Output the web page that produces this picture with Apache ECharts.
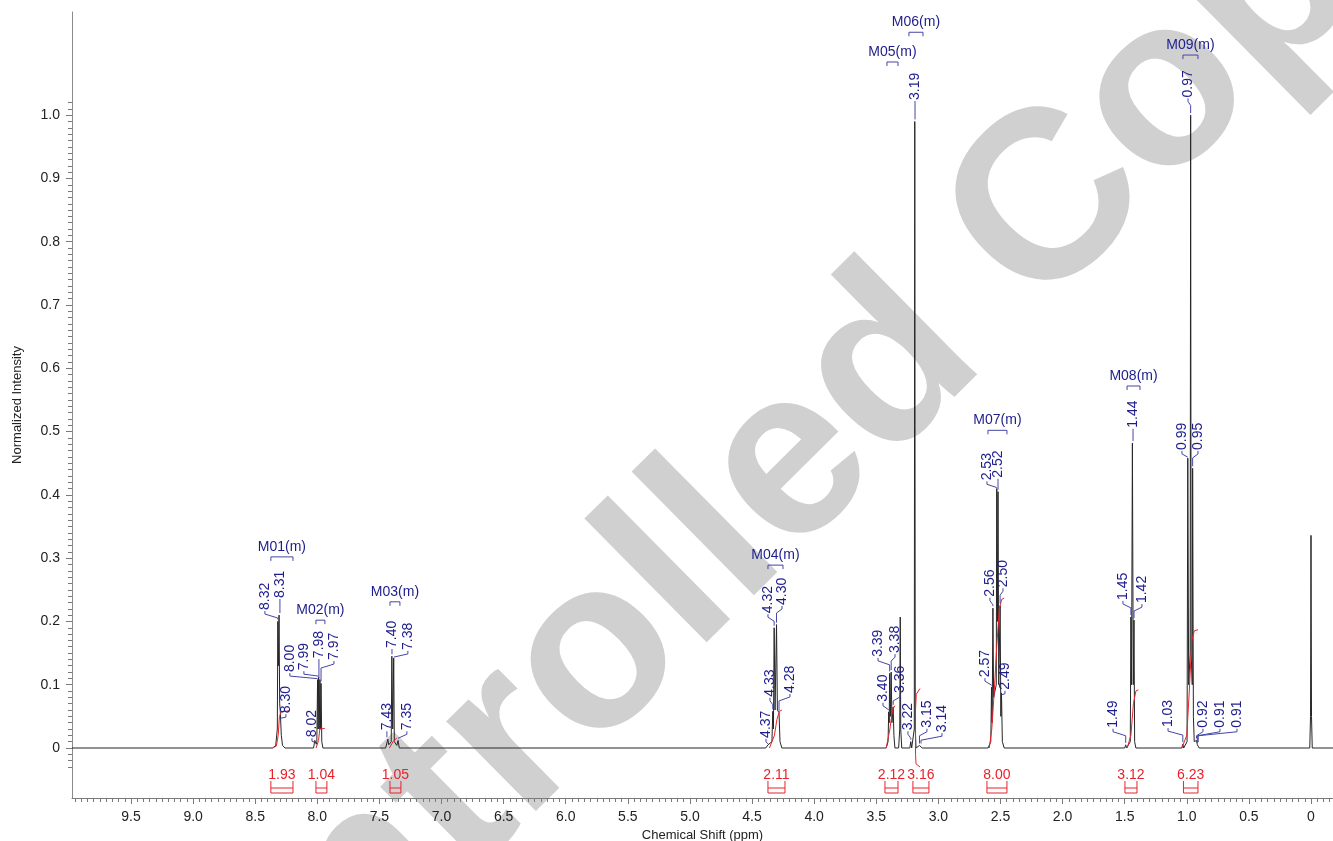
<!DOCTYPE html>
<html>
<head>
<meta charset="utf-8">
<title>1H NMR</title>
<script src="https://cdn.jsdelivr.net/npm/echarts@6.0.0/dist/echarts.min.js"></script>
<style>
html, body { margin: 0; padding: 0; background: #fff; }
#chart { width: 1333px; height: 841px; }
</style>
</head>
<body>
<div id="chart"></div>
<script>
// spectrum trace [ppm, normalized intensity]
const spectrum = [
  [9.975, 0], [8.36, 0], [8.335, 0.004], [8.322, 0.03], [8.318, 0.20], [8.313, 0.13], [8.308, 0.21],
  [8.303, 0.07], [8.298, 0.057], [8.29, 0.02], [8.28, 0.004], [8.26, 0],
  [8.03, 0], [8.02, 0.012], [8.008, 0.006], [8.004, 0.01], [7.998, 0.108], [7.994, 0.03], [7.989, 0.112],
  [7.985, 0.03], [7.979, 0.108], [7.975, 0.03], [7.970, 0.102], [7.964, 0.01], [7.955, 0],
  [7.45, 0], [7.432, 0.014], [7.425, 0.005], [7.405, 0.01], [7.400, 0.145], [7.393, 0.03], [7.385, 0.142],
  [7.380, 0.01], [7.36, 0.004], [7.35, 0.012], [7.34, 0],
  [4.39, 0], [4.372, 0.005], [4.36, 0.002], [4.34, 0.01], [4.333, 0.058], [4.328, 0.03], [4.322, 0.19],
  [4.315, 0.06], [4.303, 0.195], [4.296, 0.06], [4.283, 0.056], [4.275, 0.01], [4.26, 0],
  [3.42, 0], [3.405, 0.01], [3.40, 0.057], [3.396, 0.04], [3.392, 0.118], [3.386, 0.05], [3.380, 0.12],
  [3.374, 0.04], [3.364, 0.065], [3.358, 0.02], [3.35, 0],
  [3.32, 0], [3.311, 0.03], [3.307, 0.207], [3.303, 0.03], [3.295, 0],
  [3.23, 0], [3.222, 0.01], [3.215, 0], [3.20, 0], [3.194, 0.03], [3.190, 0.99], [3.186, 0.03], [3.18, 0],
  [3.152, 0.004], [3.14, 0.004], [3.13, 0],
  [2.60, 0], [2.578, 0.01], [2.572, 0.096], [2.567, 0.04], [2.561, 0.221], [2.555, 0.08], [2.534, 0.1],
  [2.530, 0.41], [2.524, 0.2], [2.520, 0.405], [2.514, 0.1], [2.503, 0.225], [2.497, 0.05], [2.492, 0.087],
  [2.485, 0.01], [2.47, 0],
  [1.50, 0], [1.492, 0.005], [1.485, 0], [1.455, 0.01], [1.450, 0.207], [1.445, 0.1], [1.438, 0.482],
  [1.431, 0.1], [1.425, 0.202], [1.420, 0.01], [1.41, 0],
  [1.04, 0], [1.032, 0.006], [1.025, 0], [0.998, 0.01], [0.992, 0.458], [0.985, 0.1], [0.973, 0.15],
  [0.969, 1.0], [0.965, 0.15], [0.956, 0.1], [0.953, 0.442], [0.947, 0.05], [0.94, 0.01], [0.922, 0.012],
  [0.915, 0.005], [0.908, 0.006], [0.90, 0],
  [0.01, 0], [0.004, 0.05], [0.0, 0.336], [-0.004, 0.05], [-0.01, 0], [-0.177, 0]
];

// picked peaks: [label, ppm, peak height]
const peakPicks = [
  ['8.32', 8.318, 0.20], ['8.31', 8.308, 0.21], ['8.30', 8.298, 0.057], ['8.00', 7.998, 0.108],
  ['7.99', 7.989, 0.112], ['7.98', 7.979, 0.108], ['7.97', 7.970, 0.102], ['8.02', 8.02, 0.012],
  ['7.40', 7.400, 0.145], ['7.38', 7.385, 0.142], ['7.43', 7.432, 0.014], ['7.35', 7.35, 0.012],
  ['4.32', 4.322, 0.19], ['4.30', 4.303, 0.195], ['4.33', 4.333, 0.058], ['4.28', 4.283, 0.056],
  ['4.37', 4.372, 0.005],
  ['3.39', 3.392, 0.118], ['3.38', 3.380, 0.12], ['3.40', 3.400, 0.057], ['3.36', 3.364, 0.065],
  ['3.22', 3.222, 0.01], ['3.15', 3.152, 0.004], ['3.14', 3.14, 0.004], ['3.19', 3.190, 0.99],
  ['2.53', 2.530, 0.41], ['2.52', 2.520, 0.405], ['2.56', 2.561, 0.221], ['2.50', 2.503, 0.225],
  ['2.57', 2.572, 0.096], ['2.49', 2.492, 0.087],
  ['1.44', 1.438, 0.482], ['1.45', 1.450, 0.207], ['1.42', 1.425, 0.202], ['1.49', 1.492, 0.005],
  ['0.97', 0.969, 1.0], ['0.99', 0.992, 0.458], ['0.95', 0.953, 0.442], ['1.03', 1.032, 0.006],
  ['0.92', 0.922, 0.012], ['0.91', 0.915, 0.005], ['0.91', 0.908, 0.006]
];

// where each peak label sits: [ppm, intensity at the foot of the text]
const labelSlots = [
  [8.422, 0.218], [8.301, 0.237], [8.253, 0.055], [8.221, 0.120],
  [8.108, 0.123], [7.987, 0.142], [7.866, 0.139], [8.043, 0.017],
  [7.399, 0.158], [7.271, 0.155], [7.440, 0.028], [7.279, 0.028],
  [4.372, 0.213], [4.259, 0.226], [4.356, 0.081], [4.195, 0.087],
  [4.388, 0.016],
  [3.486, 0.144], [3.349, 0.150], [3.446, 0.073], [3.309, 0.087],
  [3.245, 0.028], [3.092, 0.032], [2.971, 0.025], [3.188, 1.024],
  [2.609, 0.423], [2.520, 0.427], [2.585, 0.239], [2.480, 0.254],
  [2.625, 0.112], [2.464, 0.092],
  [1.433, 0.506], [1.514, 0.234], [1.361, 0.229], [1.594, 0.032],
  [0.990, 1.028], [1.039, 0.471], [0.910, 0.471], [1.151, 0.033],
  [0.870, 0.032], [0.733, 0.032], [0.596, 0.032]
];

// multiplets: [name, from ppm, to ppm]
const multiplets = [
  ['M01(m)', 8.374, 8.196], ['M02(m)', 8.011, 7.939], ['M03(m)', 7.415, 7.335],
  ['M04(m)', 4.372, 4.251], ['M05(m)', 3.414, 3.325], ['M06(m)', 3.237, 3.124],
  ['M07(m)', 2.601, 2.448], ['M08(m)', 1.481, 1.377], ['M09(m)', 1.031, 0.910]
];
// height of each multiplet bracket
const multipletLevels = [0.302, 0.202, 0.231, 0.289, 1.084, 1.131, 0.502, 0.572, 1.095];

// integrals: [value, from ppm, to ppm]
const integrals = [
  ['1.93', 8.374, 8.196], ['1.04', 8.011, 7.923], ['1.05', 7.415, 7.327],
  ['2.11', 4.372, 4.235], ['2.12', 3.430, 3.325], ['3.16', 3.205, 3.076],
  ['8.00', 2.609, 2.448], ['3.12', 1.498, 1.401], ['6.23', 1.027, 0.910]
];

// integral curves drawn over the peaks
const integralCurves = [
  [[8.36, 0], [8.33, 0.003], [8.315, 0.02], [8.305, 0.05], [8.29, 0.057], [8.22, 0.059]],
  [[8.01, 0], [7.99, 0.012], [7.98, 0.03], [7.94, 0.031]],
  [[7.42, 0], [7.39, 0.01], [7.36, 0.016]],
  [[4.36, 0], [4.32, 0.02], [4.30, 0.045], [4.28, 0.058], [4.26, 0.06]],
  [[3.42, 0], [3.39, 0.03], [3.37, 0.06], [3.35, 0.067]],
  [[3.148, 0.094], [3.178, 0.085], [3.184, 0.06], [3.184, -0.01], [3.18, -0.025], [3.148, -0.03]],
  [[2.59, 0], [2.57, 0.03], [2.55, 0.09], [2.53, 0.16], [2.51, 0.22], [2.49, 0.235], [2.47, 0.237]],
  [[1.48, 0], [1.45, 0.02], [1.43, 0.07], [1.41, 0.09], [1.39, 0.092]],
  [[1.04, 0], [1.00, 0.02], [0.98, 0.09], [0.96, 0.17], [0.94, 0.185], [0.91, 0.187]]
];

const xTickLabels = [9.5, 9.0, 8.5, 8.0, 7.5, 7.0, 6.5, 6.0, 5.5, 5.0, 4.5, 4.0, 3.5, 3.0, 2.5, 2.0, 1.5, 1.0, 0.5, 0];
const yTickLabels = [0, 0.1, 0.2, 0.3, 0.4, 0.5, 0.6, 0.7, 0.8, 0.9, 1.0];

const xMinor = [];
for (let k = -3; k <= 199; k++) xMinor.push(Math.round(k * 5) / 100);
const yMinor = [];
for (let k = -3; k <= 102; k++) yMinor.push(k / 100);

const FONT = '"Liberation Sans", Arial, sans-serif';
const BLUE = '#1c1c8c';
const RED = '#e8222b';
const X_MIN = -0.177, X_MAX = 9.975, Y_MIN = -0.079, Y_MAX = 1.163;

const chart = echarts.init(document.getElementById('chart'));

function fmt(v) { return v === 0 ? '0' : v.toFixed(1); }

function renderPeakLabel(params, api) {
  const i = params.dataIndex;
  const p = api.coord([api.value(0), api.value(1)]);
  const l = api.coord([api.value(2), api.value(3)]);
  const pts = [[l[0], l[1] + 1], [l[0], l[1] + 4]];
  const bend = l[1] + 8;
  if (Math.abs(p[0] - l[0]) < 1.5) {
    pts.push([l[0], Math.max(p[1] - 2, l[1] + 5)]);
  } else if (p[1] - 2 > bend) {
    pts.push([p[0], bend]);
    pts.push([p[0], p[1] - 2]);
  } else {
    pts.push([p[0], Math.max(p[1] - 1, l[1] + 5)]);
  }
  return {
    type: 'group',
    children: [
      { type: 'polyline', shape: { points: pts }, style: { stroke: '#4545a8', lineWidth: 1, fill: null } },
      {
        type: 'text', x: l[0], y: l[1], rotation: Math.PI / 2,
        style: { text: peakPicks[i][0], fill: BLUE, font: '14px ' + FONT, align: 'left', verticalAlign: 'middle' }
      }
    ]
  };
}

function renderMultiplet(params, api) {
  const i = params.dataIndex;
  const a = api.coord([api.value(0), api.value(2)]);
  const b = api.coord([api.value(1), api.value(2)]);
  return {
    type: 'group',
    children: [
      { type: 'polyline', shape: { points: [[a[0], a[1] + 4], [a[0], a[1]], [b[0], b[1]], [b[0], b[1] + 4]] },
        style: { stroke: '#4545a8', lineWidth: 1, fill: null } },
      { type: 'text', x: (a[0] + b[0]) / 2, y: a[1] - 10,
        style: { text: multiplets[i][0], fill: BLUE, font: '14px ' + FONT, align: 'center', verticalAlign: 'middle' } }
    ]
  };
}

function renderIntegral(params, api) {
  const i = params.dataIndex;
  const a = api.coord([api.value(0), 0]);
  const b = api.coord([api.value(1), 0]);
  const z = a[1];
  return {
    type: 'group',
    children: [
      { type: 'polyline', shape: { points: [[a[0], z + 33], [a[0], z + 45], [b[0], z + 45], [b[0], z + 33]] },
        style: { stroke: RED, lineWidth: 1, fill: null } },
      { type: 'line', shape: { x1: a[0], y1: z + 40, x2: b[0], y2: z + 40 }, style: { stroke: RED, lineWidth: 1 } },
      { type: 'text', x: (a[0] + b[0]) / 2, y: z + 27,
        style: { text: integrals[i][0], fill: RED, font: '14px ' + FONT, align: 'center', verticalAlign: 'middle' } }
    ]
  };
}

const series = [
  {
    name: 'spectrum', type: 'line', data: spectrum, symbol: 'none', z: 3,
    lineStyle: { color: '#262626', width: 1 }, sampling: null, silent: true
  }
];
integralCurves.forEach((c) => {
  series.push({ type: 'line', data: c, symbol: 'none', z: 4, silent: true, lineStyle: { color: RED, width: 1 } });
});
series.push({
  type: 'custom', renderItem: renderPeakLabel, clip: false, z: 5, silent: true,
  data: peakPicks.map((p, i) => [p[1], p[2], labelSlots[i][0], labelSlots[i][1]])
});
series.push({
  type: 'custom', renderItem: renderMultiplet, clip: false, z: 5, silent: true,
  data: multiplets.map((m, i) => [m[1], m[2], multipletLevels[i]])
});
series.push({
  type: 'custom', renderItem: renderIntegral, clip: false, z: 5, silent: true,
  data: integrals.map((g) => [g[1], g[2]])
});

chart.setOption({
  animation: false,
  backgroundColor: '#fff',
  textStyle: { fontFamily: FONT },
  grid: { left: 72, right: 0, top: 12, bottom: 43, containLabel: false, outerBoundsMode: 'none' },
  graphic: [{
    // watermark
    type: 'text', x: 89, y: 1160, rotation: 0.78, z: -10, silent: true,
    style: { text: 'Controlled Copy', font: 'bold 240px ' + FONT, fill: '#d0d0d0', align: 'left', verticalAlign: 'middle' }
  }],
  xAxis: [
    {
      type: 'value', inverse: true, min: X_MIN, max: X_MAX,
      name: 'Chemical Shift (ppm)', nameLocation: 'middle', nameGap: 26,
      nameTextStyle: { fontSize: 13, color: '#222' },
      splitLine: { show: false },
      axisLine: { show: true, onZero: false, lineStyle: { color: '#7a7a7a', width: 1 } },
      axisTick: { show: true, length: 6, customValues: xTickLabels, lineStyle: { color: '#7a7a7a' } },
      axisLabel: { customValues: xTickLabels, formatter: fmt, fontSize: 14, color: '#222', margin: 12 }
    },
    {
      type: 'value', inverse: true, min: X_MIN, max: X_MAX, position: 'bottom',
      splitLine: { show: false }, axisLine: { show: false, onZero: false }, axisLabel: { show: false },
      axisTick: { show: true, length: 4, customValues: xMinor, lineStyle: { color: '#7a7a7a' } }
    }
  ],
  yAxis: [
    {
      type: 'value', min: Y_MIN, max: Y_MAX,
      name: 'Normalized Intensity', nameLocation: 'middle', nameGap: 48,
      nameTextStyle: { fontSize: 13, color: '#222' },
      splitLine: { show: false },
      axisLine: { show: true, onZero: false, lineStyle: { color: '#8a8a8a', width: 1 } },
      axisTick: { show: true, length: 6, customValues: yTickLabels, lineStyle: { color: '#7a7a7a' } },
      axisLabel: { customValues: yTickLabels, formatter: fmt, fontSize: 14, color: '#222', margin: 12 }
    },
    {
      type: 'value', min: Y_MIN, max: Y_MAX, position: 'left',
      splitLine: { show: false }, axisLine: { show: false, onZero: false }, axisLabel: { show: false },
      axisTick: { show: true, length: 4, customValues: yMinor, lineStyle: { color: '#7a7a7a' } }
    }
  ],
  series: series
});
</script>
</body>
</html>
